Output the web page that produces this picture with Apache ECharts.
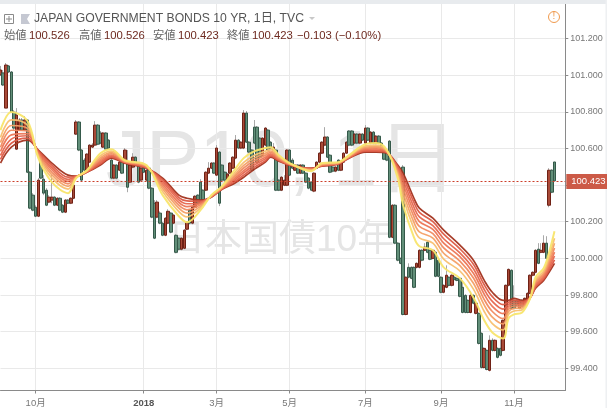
<!DOCTYPE html>
<html><head><meta charset="utf-8">
<style>html,body{margin:0;padding:0;background:#fff}#c{width:607px;height:408px}</style>
<script src="https://cdn.jsdelivr.net/npm/echarts@6/dist/echarts.min.js"></script>
</head><body><div id="c"></div>
<script>
const monthLabels = {13:'10月',53:'2018',80:'3月',107:'5月',135:'7月',163:'9月',190:'11月'};
const yTicks = [99.4,99.6,99.8,100,100.2,100.4,100.6,100.8,101,101.2];
const opens = [101.001,101.012,100.820,101.050,101.017,100.798,100.596,100.700,100.755,100.700,100.755,100.470,100.345,100.279,100.230,100.563,100.432,100.372,100.307,100.318,
100.334,100.290,100.328,100.290,100.252,100.318,100.301,100.328,100.678,100.744,100.591,100.536,100.481,100.525,100.607,100.618,100.727,100.684,100.607,100.684,
100.645,100.536,100.438,100.509,100.481,100.525,100.520,100.525,100.416,100.498,100.552,100.509,100.427,100.492,100.427,100.492,100.383,100.301,100.225,100.247,
100.192,100.126,100.192,100.247,100.192,100.126,100.110,100.050,100.055,100.159,100.263,100.192,100.279,100.345,100.416,100.372,100.372,100.465,100.492,100.520,
100.454,100.580,100.509,100.470,100.427,100.465,100.492,100.547,100.645,100.602,100.602,100.793,100.634,100.591,100.716,100.716,100.656,100.563,100.618,100.700,
100.634,100.591,100.591,100.427,100.372,100.399,100.399,100.591,100.536,100.481,100.509,100.465,100.509,100.465,100.438,100.416,100.367,100.492,100.525,100.574,
100.618,100.662,100.563,100.498,100.476,100.536,100.481,100.525,100.574,100.695,100.695,100.629,100.678,100.629,100.678,100.629,100.711,100.629,100.689,100.629,
100.667,100.629,100.591,100.574,100.640,100.115,100.290,100.083,100.000,100.498,99.694,99.951,99.951,99.951,99.951,99.951,100.044,100.044,100.088,100.044,
100.000,100.033,99.990,99.897,99.815,99.842,99.897,99.853,99.897,99.891,99.891,99.842,99.798,99.771,99.705,99.798,99.700,99.700,99.591,99.405,
99.498,99.389,99.553,99.498,99.509,99.509,99.498,99.662,99.853,99.935,99.771,99.771,99.727,99.771,99.744,99.771,99.809,99.908,99.924,100.050,
100.033,100.033,100.083,100.290,100.481,100.526];
const closes = [101.028,100.946,101.055,101.017,100.798,100.711,100.782,100.755,100.700,100.755,100.470,100.274,100.263,100.230,100.427,100.438,100.356,100.290,100.334,100.334,
100.290,100.328,100.263,100.252,100.318,100.301,100.328,100.399,100.744,100.591,100.427,100.481,100.569,100.618,100.618,100.727,100.623,100.629,100.684,100.596,
100.602,100.438,100.509,100.438,100.525,100.465,100.591,100.388,100.509,100.552,100.509,100.416,100.492,100.470,100.481,100.383,100.225,100.110,100.307,100.192,
100.126,100.219,100.257,100.143,100.236,100.033,100.050,100.110,100.154,100.197,100.192,100.279,100.339,100.301,100.318,100.318,100.470,100.492,100.520,100.465,
100.602,100.301,100.427,100.427,100.460,100.520,100.552,100.645,100.602,100.634,100.793,100.634,100.580,100.481,100.629,100.525,100.552,100.656,100.711,100.591,
100.602,100.607,100.372,100.372,100.443,100.427,100.591,100.454,100.492,100.509,100.465,100.509,100.465,100.416,100.383,100.372,100.465,100.525,100.574,100.634,
100.662,100.552,100.470,100.476,100.498,100.481,100.525,100.574,100.634,100.618,100.618,100.678,100.629,100.678,100.645,100.711,100.645,100.689,100.629,100.667,
100.629,100.591,100.541,100.536,100.115,100.290,100.083,99.990,99.973,99.694,99.897,99.897,99.891,99.842,99.973,100.044,99.990,100.061,100.033,99.995,
100.044,99.902,99.902,99.815,99.853,99.908,99.853,99.908,99.886,99.880,99.793,99.705,99.705,99.705,99.798,99.755,99.755,99.536,99.405,99.509,
99.394,99.553,99.498,99.553,99.460,99.471,99.662,99.853,99.940,99.727,99.727,99.744,99.771,99.738,99.782,99.809,99.908,99.924,100.044,99.973,
100.044,100.083,100.000,100.481,100.361,100.423];
const highs = [101.050,101.028,101.066,101.055,101.022,100.809,100.820,100.766,100.766,100.776,100.760,100.476,100.356,100.290,100.438,100.574,100.454,100.383,100.345,100.454,
100.339,100.334,100.334,100.296,100.323,100.323,100.334,100.405,100.755,100.749,100.596,100.547,100.574,100.623,100.629,100.749,100.733,100.695,100.689,100.689,
100.651,100.563,100.514,100.514,100.530,100.530,100.602,100.591,100.514,100.574,100.558,100.514,100.498,100.498,100.487,100.498,100.388,100.318,100.318,100.257,
100.197,100.225,100.268,100.252,100.241,100.132,100.115,100.115,100.159,100.203,100.268,100.285,100.345,100.350,100.432,100.377,100.476,100.525,100.525,100.525,
100.618,100.585,100.514,100.476,100.465,100.525,100.558,100.673,100.651,100.640,100.809,100.804,100.640,100.596,100.755,100.722,100.662,100.662,100.716,100.705,
100.640,100.629,100.596,100.432,100.449,100.454,100.596,100.596,100.547,100.514,100.514,100.514,100.514,100.470,100.443,100.421,100.470,100.530,100.580,100.640,
100.716,100.667,100.569,100.503,100.503,100.541,100.530,100.580,100.640,100.700,100.700,100.684,100.684,100.684,100.684,100.727,100.716,100.695,100.695,100.673,
100.673,100.634,100.596,100.580,100.645,100.296,100.296,100.088,100.005,100.509,99.902,99.973,99.956,99.956,99.978,100.050,100.050,100.083,100.094,100.050,
100.050,100.039,99.995,99.902,99.858,99.962,99.902,99.913,99.902,99.897,99.897,99.880,99.804,99.776,99.820,99.804,99.760,99.705,99.596,99.514,
99.503,99.580,99.564,99.558,99.514,99.558,99.667,99.858,99.945,99.940,99.853,99.776,99.776,99.776,99.787,99.815,99.913,99.930,100.050,100.083,
100.083,100.126,100.121,100.492,100.487,100.526];
const lows = [100.995,100.940,100.820,101.012,100.793,100.700,100.591,100.695,100.695,100.695,100.465,100.268,100.257,100.225,100.225,100.432,100.345,100.285,100.301,100.301,
100.285,100.285,100.257,100.247,100.247,100.296,100.296,100.323,100.673,100.585,100.421,100.476,100.476,100.520,100.602,100.612,100.618,100.623,100.602,100.591,
100.596,100.432,100.432,100.432,100.476,100.460,100.514,100.361,100.410,100.492,100.503,100.410,100.421,100.465,100.421,100.377,100.219,100.105,100.219,100.186,
100.121,100.121,100.186,100.137,100.186,100.028,100.044,100.044,100.050,100.154,100.186,100.186,100.274,100.296,100.312,100.312,100.367,100.460,100.487,100.460,
100.449,100.285,100.421,100.421,100.421,100.460,100.487,100.541,100.596,100.596,100.596,100.629,100.574,100.476,100.623,100.520,100.547,100.558,100.612,100.585,
100.596,100.585,100.367,100.367,100.367,100.394,100.394,100.449,100.487,100.476,100.460,100.460,100.460,100.410,100.377,100.367,100.361,100.487,100.520,100.569,
100.612,100.547,100.465,100.470,100.470,100.476,100.476,100.520,100.569,100.612,100.612,100.623,100.623,100.623,100.640,100.623,100.640,100.623,100.623,100.623,
100.623,100.585,100.536,100.530,100.110,100.110,100.077,99.984,99.968,99.689,99.689,99.891,99.886,99.837,99.945,99.945,99.984,100.039,100.028,99.990,
99.995,99.897,99.897,99.809,99.809,99.837,99.847,99.847,99.880,99.875,99.787,99.700,99.700,99.700,99.700,99.749,99.694,99.530,99.399,99.399,
99.389,99.383,99.492,99.492,99.454,99.465,99.492,99.656,99.847,99.722,99.722,99.738,99.722,99.733,99.738,99.765,99.804,99.902,99.918,99.968,
100.028,100.028,99.995,100.279,100.356,100.423];

const ribbonIdx = [0,4,10,14,19,25,28,32,37,41,46,54,60,66,69,74,78,82,86,90,94,98,100,103,107,115,119,125,129,135,139,143,147,149,153,155,160,164,170,175,179,182,186,188,190,193,196,198,201,203,205];
const ema1 = [100.700,100.798,100.749,100.547,100.416,100.356,100.438,100.481,100.574,100.596,100.536,100.509,100.345,100.230,100.197,100.263,100.345,100.394,100.470,100.547,100.585,100.602,100.607,100.563,100.520,100.476,100.520,100.525,100.563,100.623,100.629,100.591,100.438,100.290,100.115,100.066,100.044,99.951,99.891,99.787,99.662,99.596,99.563,99.673,99.694,99.705,99.782,99.897,99.946,100.033,100.148];
const ema2 = [100.660,100.756,100.726,100.557,100.439,100.378,100.440,100.479,100.560,100.585,100.532,100.505,100.365,100.255,100.226,100.275,100.343,100.390,100.456,100.524,100.563,100.585,100.595,100.556,100.518,100.480,100.516,100.523,100.559,100.614,100.618,100.587,100.454,100.329,100.162,100.112,100.083,99.996,99.931,99.832,99.710,99.644,99.609,99.695,99.713,99.720,99.783,99.884,99.931,100.009,100.110];
const ema3 = [100.632,100.725,100.709,100.564,100.456,100.393,100.442,100.477,100.549,100.577,100.530,100.503,100.380,100.274,100.247,100.284,100.341,100.388,100.445,100.507,100.548,100.573,100.586,100.550,100.516,100.482,100.514,100.521,100.557,100.607,100.610,100.585,100.465,100.357,100.196,100.145,100.111,100.028,99.960,99.864,99.745,99.679,99.642,99.710,99.727,99.730,99.784,99.874,99.921,99.992,100.082];
const ema4 = [100.606,100.699,100.695,100.570,100.470,100.407,100.444,100.475,100.540,100.571,100.528,100.500,100.393,100.290,100.265,100.292,100.339,100.385,100.436,100.493,100.534,100.562,100.578,100.546,100.514,100.484,100.511,100.519,100.555,100.601,100.604,100.582,100.475,100.381,100.226,100.174,100.135,100.057,99.985,99.893,99.775,99.710,99.671,99.724,99.740,99.739,99.785,99.866,99.912,99.976,100.057];
const ema5 = [100.583,100.674,100.681,100.576,100.484,100.420,100.445,100.474,100.532,100.564,100.526,100.498,100.405,100.305,100.282,100.299,100.338,100.383,100.428,100.479,100.521,100.552,100.571,100.542,100.513,100.486,100.509,100.518,100.553,100.595,100.597,100.580,100.484,100.404,100.253,100.201,100.158,100.083,100.009,99.919,99.804,99.738,99.698,99.737,99.751,99.748,99.785,99.858,99.903,99.962,100.034];
const ema6 = [100.561,100.651,100.669,100.581,100.496,100.431,100.446,100.473,100.524,100.558,100.524,100.496,100.417,100.319,100.298,100.305,100.337,100.381,100.420,100.467,100.510,100.543,100.565,100.538,100.512,100.488,100.507,100.517,100.551,100.590,100.591,100.578,100.493,100.425,100.279,100.226,100.179,100.107,100.030,99.943,99.830,99.765,99.723,99.748,99.762,99.756,99.786,99.851,99.895,99.949,100.013];
const ema7 = [100.540,100.628,100.656,100.586,100.509,100.443,100.448,100.471,100.516,100.552,100.522,100.494,100.428,100.332,100.314,100.312,100.335,100.379,100.412,100.454,100.498,100.533,100.558,100.534,100.510,100.490,100.505,100.515,100.549,100.585,100.585,100.576,100.501,100.446,100.305,100.251,100.200,100.132,100.052,99.968,99.856,99.791,99.748,99.760,99.772,99.764,99.786,99.844,99.887,99.936,99.992];
const ema8 = [100.520,100.607,100.645,100.591,100.520,100.454,100.449,100.470,100.509,100.547,100.520,100.492,100.438,100.345,100.328,100.318,100.334,100.377,100.405,100.443,100.487,100.525,100.552,100.530,100.509,100.492,100.503,100.514,100.547,100.580,100.580,100.574,100.509,100.465,100.328,100.274,100.219,100.154,100.072,99.990,99.880,99.815,99.771,99.771,99.782,99.771,99.787,99.837,99.880,99.924,99.973];
const emas = [ema8,ema7,ema6,ema5,ema4,ema3,ema2,ema1];
const emaColors = ['#a2331f','#dc5a45','#e5664e','#ec7656','#f08a60','#f4a066','#f8c070','#f8e56c'];

const categories = Array.from({length:210},(_,i)=>monthLabels[i]||'');
const isMonth = i => monthLabels[i]!==undefined;
const wick = opens.map((o,i)=>[o,closes[i],lows[i],highs[i]]);
const body = opens.map((o,i)=>[o,closes[i],Math.min(o,closes[i]),Math.max(o,closes[i])]);

const chart = echarts.init(document.getElementById('c'),null,{renderer:'canvas'});
const sans = 'Liberation Sans, Arial, sans-serif';
const cjk = '"Liberation Sans","Noto Sans CJK JP",sans-serif';
const hdr=(x,text,fill,font)=>({type:'text',x,y:30,silent:true,z:10,style:{text,fill,font}});
const labelFont=`11.3px ${cjk}`, valueFont=`11.3px ${sans}`, nameC='#666', valC='#6e2a20';
chart.setOption({
  animation:false,
  backgroundColor:'#fff',
  grid:{left:0.5,top:4,width:564.8,height:386.5,containLabel:false,outerBoundsMode:'none'},
  xAxis:{type:'category',data:categories,boundaryGap:false,
    axisLine:{lineStyle:{color:'#8a8a8a',width:1},onZero:false},
    axisTick:{show:true,length:3,alignWithLabel:true,interval:(i)=>isMonth(i),lineStyle:{color:'#8a8a8a'}},
    axisLabel:{interval:(i)=>isMonth(i),hideOverlap:false,margin:8,fontSize:9.5,fontFamily:cjk,color:'#777',
      formatter:v=>v==='2018'?'{b|2018}':v,rich:{b:{fontWeight:'bold',color:'#555',fontSize:9.5,fontFamily:sans}}},
    splitLine:{show:true,interval:(i)=>isMonth(i),lineStyle:{color:'#e9e9e9',width:1}}},
  yAxis:{type:'value',position:'right',scale:true,min:99.279,max:101.388,
    axisLine:{show:true,lineStyle:{color:'#8a8a8a'}},
    axisTick:{show:true,length:3,customValues:yTicks,lineStyle:{color:'#8a8a8a'}},
    axisLabel:{margin:5,fontSize:9,fontFamily:sans,color:'#777',customValues:yTicks,formatter:v=>v.toFixed(3)},
    splitLine:{show:true,lineStyle:{color:'#e9e9e9',width:1}}},
  graphic:[
    {type:'rect',shape:{x:0,y:0,width:607,height:4},style:{fill:'#e8ebee'},silent:true,z:5},
    {type:'rect',shape:{x:605.5,y:0,width:2,height:408},style:{fill:'#eef0f2'},silent:true,z:5},
    {type:'text',x:106,y:124,silent:true,z:0,style:{text:'JP10, 1日',fill:'#e5e5e5',font:`80px ${cjk}`}},
    {type:'text',x:168,y:222,silent:true,z:0,style:{text:'日本国債10年',fill:'#e5e5e5',font:`37px ${cjk}`}},
    {type:'rect',shape:{x:4.5,y:14.5,width:9,height:9},style:{fill:'#fff',stroke:'#8a8a8a',lineWidth:1},silent:true,z:10},
    {type:'polyline',shape:{points:[[6,19],[12,19]]},style:{stroke:'#8a8a8a'},silent:true,z:11},
    {type:'polyline',shape:{points:[[9,16],[9,22]]},style:{stroke:'#8a8a8a'},silent:true,z:11},
    {type:'polygon',shape:{points:[[21,14],[30,14],[27,19],[30,24],[21,24]]},style:{fill:'#c5c8d2'},silent:true,z:10},
    {type:'text',x:34,y:13,silent:true,z:10,style:{text:'JAPAN GOVERNMENT BONDS 10 YR, 1日, TVC',fill:'#555',font:`12.2px ${cjk}`}},
    {type:'polygon',shape:{points:[[309,17],[315,17],[312,20]]},style:{fill:'#c8c8c8'},silent:true,z:10},
    hdr(4,'始値',nameC,labelFont),hdr(29,'100.526',valC,valueFont),
    hdr(79,'高値',nameC,labelFont),hdr(104,'100.526',valC,valueFont),
    hdr(153,'安値',nameC,labelFont),hdr(178,'100.423',valC,valueFont),
    hdr(227,'終値',nameC,labelFont),hdr(252,'100.423',valC,valueFont),
    hdr(297,'−0.103 (−0.10%)',valC,valueFont),
    {type:'circle',shape:{cx:554,cy:17,r:5.5},style:{fill:'#fff',stroke:'#f09a4e',lineWidth:1},silent:true,z:10},
    {type:'text',x:552.5,y:11.5,silent:true,z:11,style:{text:'!',fill:'#f09a4e',font:`10px ${sans}`}}
  ],
  series:[
    {type:'candlestick',name:'wick',data:wick,barWidth:1,z:3,silent:true,clip:true,
      itemStyle:{color:'#a9a9a9',color0:'#a9a9a9',borderColor:'#a9a9a9',borderColor0:'#a9a9a9',borderWidth:1}},
    {type:'candlestick',name:'body',data:body,barWidth:3,z:4,silent:true,clip:true,
      itemStyle:{color:'#a84a38',color0:'#628f79',borderColor:'#6f2115',borderColor0:'#35594a',borderWidth:1},
      markLine:{silent:true,symbol:'none',animation:false,z:9,data:[{yAxis:100.423}],
        lineStyle:{color:'#cc3f2a',type:[2,2],width:1},
        label:{show:true,position:'end',formatter:'100.423',distance:1,color:'#fff',backgroundColor:'#cc5a47',fontFamily:sans,fontSize:9.5,padding:[2.5,3,2.5,5],align:'left'}}},
    ...emas.map((d,k)=>({type:'line',name:'ema'+k,data:d.map((v,i)=>[ribbonIdx[i],v]),smooth:0.35,showSymbol:false,symbol:'none',silent:true,z:5+k,
      lineStyle:{color:emaColors[k],width:k===7?2:1.7,opacity:0.95}}))
  ]
});
</script></body></html>
